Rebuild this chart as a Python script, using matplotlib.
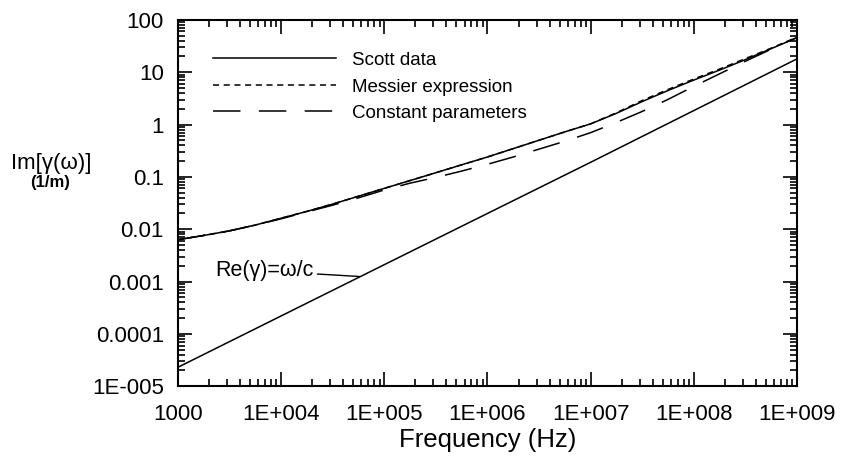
import matplotlib
matplotlib.use("Agg")
import matplotlib.pyplot as plt
from matplotlib.ticker import LogLocator, FixedLocator, NullFormatter

plt.rcParams['font.family'] = ['Liberation Sans', 'DejaVu Sans']

freq = [1.0e3, 1.78e3, 3.16e3, 5.62e3,
        1.0e4, 1.78e4, 3.16e4, 5.62e4,
        1.0e5, 1.78e5, 3.16e5, 5.62e5,
        1.0e6, 1.78e6, 3.16e6, 5.62e6,
        1.0e7, 1.78e7, 3.16e7, 5.62e7,
        1.0e8, 1.78e8, 3.16e8, 5.62e8,
        1.0e9]
scott = [0.0063, 0.0076, 0.0093, 0.0120,
         0.0162, 0.0219, 0.0302, 0.0427,
         0.0603, 0.0851, 0.120, 0.170,
         0.240, 0.347, 0.501, 0.724,
         1.03, 1.64, 2.75, 4.47,
         7.08, 11.0, 17.4, 28.2,
         45.7]
messier = [0.0063, 0.0076, 0.0093, 0.0120,
           0.0162, 0.0219, 0.0302, 0.0427,
           0.0603, 0.0851, 0.120, 0.170,
           0.240, 0.347, 0.501, 0.724,
           1.03, 1.68, 2.88, 4.68,
           7.41, 11.5, 18.2, 28.8,
           46.8]
constant = [0.0063, 0.0076, 0.0093, 0.0120,
            0.0158, 0.0214, 0.0288, 0.0398,
            0.0562, 0.0759, 0.0977, 0.129,
            0.174, 0.240, 0.339, 0.479,
            0.700, 1.10, 1.78, 3.02,
            5.37, 9.33, 16.2, 27.5,
            46.2]

freq_re = [1e3, 1e4, 1e5, 1e6, 1e7, 1e8, 1e9]
re_gamma = [2.3e-5, 2.2e-4, 2.1e-3, 0.02, 0.19, 1.85, 18.0]

xticks = [1e3, 1e4, 1e5, 1e6, 1e7, 1e8, 1e9]
xtick_labels = ['1000', '1E+004', '1E+005', '1E+006', '1E+007', '1E+008', '1E+009']
yticks = [1e-5, 1e-4, 1e-3, 1e-2, 1e-1, 1, 10, 100]
ytick_labels = ['1E-005', '0.0001', '0.001', '0.01', '0.1', '1', '10', '100']

fig = plt.figure(figsize=(8.47, 4.62), dpi=100)
ax = fig.add_axes([0.210, 0.164, 0.731, 0.793])

ax.plot(freq, scott, color='black', lw=1.1, ls='-', label='Scott data')
ax.plot(freq, messier, color='black', lw=1.1, ls=(0, (4, 3)), label='Messier expression')
ax.plot(freq, constant, color='black', lw=1.1, ls=(0, (18, 12)), label='Constant parameters')
ax.plot(freq_re, re_gamma, color='black', lw=1.1, ls='-')

ax.set_xscale('log')
ax.set_yscale('log')
ax.set_xlim(1e3, 1e9)
ax.set_ylim(1e-5, 100)

ax.xaxis.set_major_locator(FixedLocator(xticks))
ax.set_xticklabels(xtick_labels)
ax.yaxis.set_major_locator(FixedLocator(yticks))
ax.set_yticklabels(ytick_labels)
ax.xaxis.set_minor_locator(LogLocator(base=10, subs=range(2, 10), numticks=20))
ax.yaxis.set_minor_locator(LogLocator(base=10, subs=range(2, 10), numticks=20))
ax.xaxis.set_minor_formatter(NullFormatter())
ax.yaxis.set_minor_formatter(NullFormatter())

ax.tick_params(which='both', direction='in', top=True, right=True, labelsize=16, width=1.2)
ax.tick_params(which='major', length=10)
ax.tick_params(axis='x', which='major', pad=13)
ax.tick_params(axis='y', which='major', pad=10)
ax.tick_params(which='minor', length=5)
for s in ax.spines.values():
    s.set_linewidth(1.5)

ax.set_xlabel('Frequency (Hz)', fontsize=18.5, labelpad=2)

fig.text(0.060, 0.647, 'Im[γ(ω)]', fontsize=16, ha='center', va='center')
fig.text(0.059, 0.604, '(1/m)', fontsize=12, ha='center', va='center', fontweight='bold')

leg = ax.legend(loc='upper left', bbox_to_anchor=(0.044, 0.933), frameon=False,
                fontsize=13.5, handlelength=6.6, handletextpad=0.85, labelspacing=0.5,
                borderaxespad=0)

ax.annotate('Re(γ)=ω/c', xy=(5.7e4, 1.25e-3), xytext=(2.05e4, 1.6e-3),
            fontsize=15.5, ha='right', va='center',
            arrowprops=dict(arrowstyle='-', color='black', lw=1.0, shrinkA=1, shrinkB=0))

fig.savefig('out.png', dpi=100)
